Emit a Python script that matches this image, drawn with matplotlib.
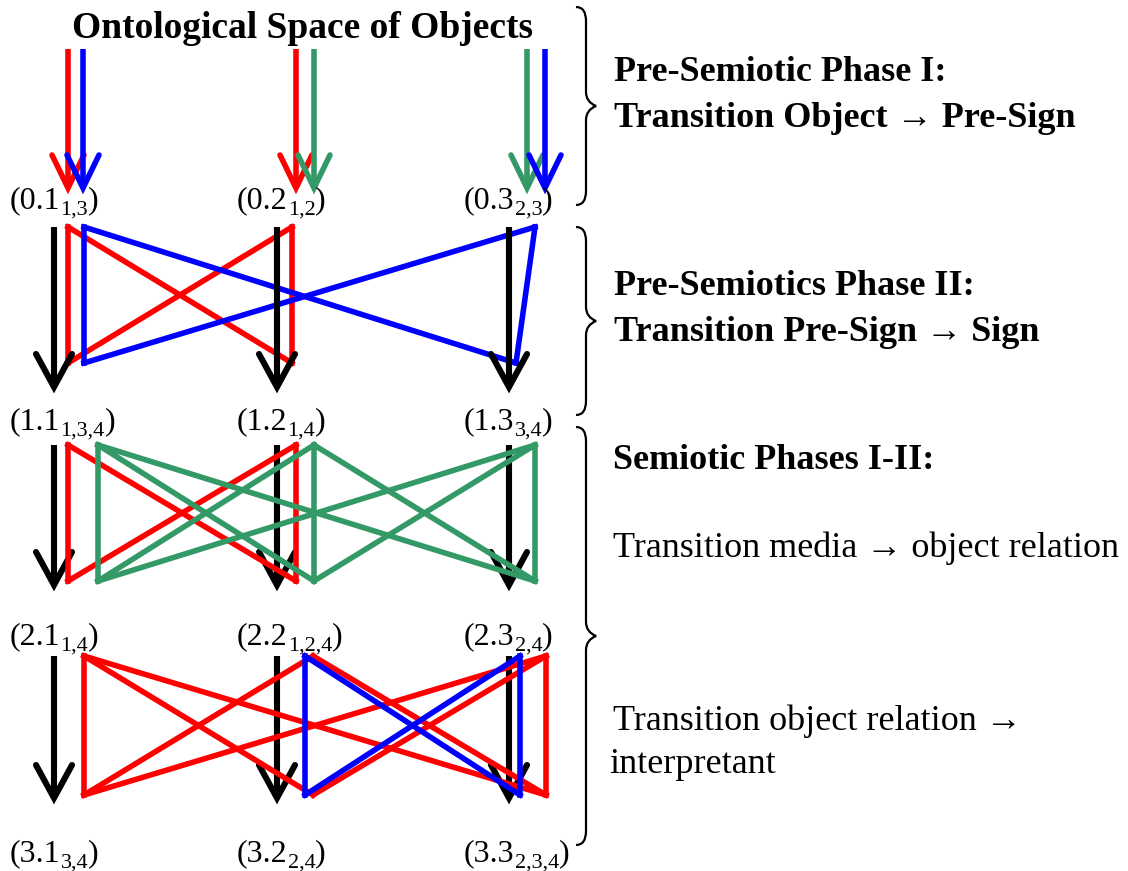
import matplotlib
matplotlib.use("Agg")
import matplotlib.pyplot as plt
from matplotlib.path import Path
from matplotlib.patches import PathPatch
from itertools import product

plt.rcParams['font.family'] = ['Liberation Serif', 'DejaVu Serif']

RED = '#ff0000'
BLUE = '#0000ff'
GREEN = '#339966'

# sign labels per row: (main part, subscript)
labels = [
    [("0.1", "1,3"), ("0.2", "1,2"), ("0.3", "2,3")],
    [("1.1", "1,3,4"), ("1.2", "1,4"), ("1.3", "3,4")],
    [("2.1", "1,4"), ("2.2", "1,2,4"), ("2.3", "2,4")],
    [("3.1", "3,4"), ("3.2", "2,4"), ("3.3", "2,3,4")],
]
label_x = [10, 237, 464]
label_base = [208, 429, 644, 861]

# vertical extent of each transition band (top, bottom)
band_top = [49, 227, 445, 656]
band_bot = [188, 365, 583, 797]

# arrows from the ontological space
onto_x = [68, 83, 296, 314, 527, 545]
onto_c = [RED, BLUE, RED, GREEN, GREEN, BLUE]

# black arrows between rows 1..3
black_x = [54, 277, 509]
black_tip = [387, 585, 798]

# colored connection groups: band, color, top nodes, bottom nodes, skipped edges
groups = [
    (1, RED, [68, 292], [68, 292], []),
    (1, BLUE, [84, 535], [84, 516], []),
    (2, RED, [68, 296], [68, 296], []),
    (2, GREEN, [98, 314, 535], [98, 314, 535], []),
    (3, RED, [84, 313, 546], [84, 313, 546], [(1, 1)]),
    (3, BLUE, [305, 520], [305, 520], []),
]

# right side braces and texts
braces = [(7, 205), (227, 415), (427, 845)]
notes = [
    ("Pre-Semiotic Phase I:", 614, 81, 'bold'),
    ("Transition Object \u2192 Pre-Sign", 614, 127, 'bold'),
    ("Pre-Semiotics Phase II:", 614, 295, 'bold'),
    ("Transition Pre-Sign \u2192 Sign", 614, 341, 'bold'),
    ("Semiotic Phases I-II:", 613, 469, 'bold'),
    ("Transition media \u2192 object relation", 613, 557, 'normal'),
    ("Transition object relation \u2192", 613, 730, 'normal'),
    ("interpretant", 609, 773, 'normal'),
]


def arrow(ax, x, y0, y1, color, hw=17, hl=33, lw=4.2, z=3):
    ax.plot([x, x], [y0, y1 - 2], color=color, lw=lw, solid_capstyle='butt', zorder=z)
    ax.plot([x - hw, x, x + hw], [y1 - hl, y1, y1 - hl], color=color, lw=lw,
            solid_capstyle='round', solid_joinstyle='miter', zorder=z)


def brace(ax, y0, y1, x=586, w=10):
    ym = (y0 + y1) / 2
    verts = [(x - w, y0), (x, y0), (x, y0 + 14),
             (x, ym - 14), (x, ym - 4), (x + w, ym),
             (x, ym + 4), (x, ym + 14),
             (x, y1 - 14), (x, y1), (x - w, y1)]
    codes = [Path.MOVETO, Path.CURVE3, Path.CURVE3,
             Path.LINETO, Path.CURVE3, Path.CURVE3,
             Path.CURVE3, Path.CURVE3,
             Path.LINETO, Path.CURVE3, Path.CURVE3]
    ax.add_patch(PathPatch(Path(verts, codes), fill=False, lw=1.6, color='black'))


fig = plt.figure(figsize=(11.28, 8.71), dpi=100)
ax = fig.add_axes([0, 0, 1, 1])
ax.set_xlim(0, 1128)
ax.set_ylim(871, 0)
ax.axis('off')

ax.text(303, 38, "Ontological Space of Objects", fontsize=27, fontweight='bold',
        ha='center', va='baseline')

# row 0 arrows (red first, then green, then blue on top)
order = {RED: 3, GREEN: 4, BLUE: 5}
for x, c in zip(onto_x, onto_c):
    arrow(ax, x, band_top[0], band_bot[0], c, hw=16, lw=4, z=order[c])

# black arrows
for b in range(1, 4):
    for x in black_x:
        arrow(ax, x, band_top[b], black_tip[b - 1], 'black', hw=18, lw=4.4,
              z=8 if b == 1 else 2)

# colored connections
for band, c, tops, bots, skip in groups:
    z = 6 if c == BLUE else (5 if c == GREEN else 4)
    for i, j in product(range(len(tops)), range(len(bots))):
        if (i, j) in skip:
            continue
        ax.plot([tops[i], bots[j]], [band_top[band], band_bot[band] - 2], color=c,
                lw=4, solid_capstyle='projecting', zorder=z)

# labels: main part, lowered subscript, closing paren
for r, row in enumerate(labels):
    for x, (main, sub) in zip(label_x, row):
        t = ax.text(x, label_base[r], "(" + main, fontsize=23, ha='left',
                    va='baseline', zorder=10)
        s = ax.annotate(sub, xy=(1, 0), xycoords=t, fontsize=16, ha='left',
                        va='baseline', zorder=10)
        ax.annotate(")", xy=(1, 0), xycoords=(s, t), fontsize=23, ha='left',
                    va='bottom', zorder=10)

for y0, y1 in braces:
    brace(ax, y0, y1)

for txt, x, y, w in notes:
    ax.text(x, y, txt, fontsize=26, fontweight=w, ha='left', va='baseline')

fig.savefig("out.png", dpi=100)
